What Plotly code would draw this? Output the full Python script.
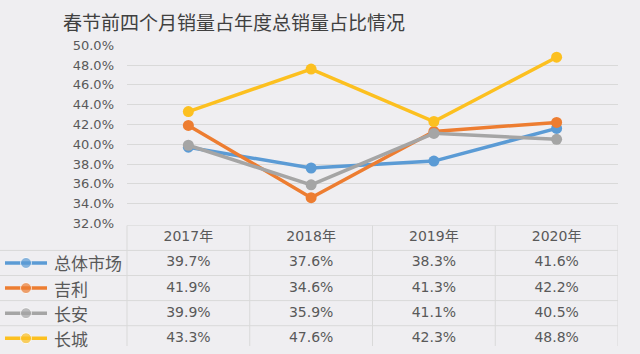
import plotly.graph_objects as go

title = "春节前四个月销量占年度总销量占比情况"
years = ["2017年", "2018年", "2019年", "2020年"]
series_names = ["总体市场", "吉利", "长安", "长城"]
v_total = [39.7, 37.6, 38.3, 41.6]
v_geely = [41.9, 34.6, 41.3, 42.2]
v_changan = [39.9, 35.9, 41.1, 40.5]
v_gw = [43.3, 47.6, 42.3, 48.8]
colors = ["#5b9bd5", "#ed7d31", "#a5a5a5", "#fcc020"]
y_ticks = [32, 34, 36, 38, 40, 42, 44, 46, 48, 50]

series_values = [v_total, v_geely, v_changan, v_gw]

W, H = 640, 354
L, R = 127, 618          # plot left / right px
T, B = 40, 226           # plot top / bottom px
w = (R - L) / 4.0
x2_min = -0.5 - L / w

TXT = "#595959"
GRID = "#d9d9d9"
FONT = "DejaVu Sans, Noto Sans CJK SC, sans-serif"
BG = "#efeef1"

fig = go.Figure()

# main line chart
for name, vals, c in zip(series_names, series_values, colors):
    fig.add_trace(go.Scatter(
        x=years, y=vals, name=name, mode="lines+markers",
        line=dict(color=c, width=3.5),
        marker=dict(color=c, size=11),
        xaxis="x", yaxis="y", showlegend=False, hoverinfo="skip"))

# table: row index 0 header, rows 1..4
row_h = 26.2
top_px = 228
y2_max = -0.5 + (H - top_px) / row_h

def px2x(px):
    return x2_min + px / w

# header text
fig.add_trace(go.Scatter(
    x=list(range(len(years))), y=[0] * len(years), text=years, mode="text",
    textfont=dict(family=FONT, size=14, color=TXT),
    xaxis="x2", yaxis="y2", showlegend=False, hoverinfo="skip"))

for i, (name, vals, c) in enumerate(zip(series_names, series_values, colors)):
    r = i + 1
    fig.add_trace(go.Scatter(
        x=list(range(len(vals))), y=[r] * len(vals),
        text=[f"{v:.1f}%" for v in vals], mode="text",
        textfont=dict(family=FONT, size=14, color=TXT),
        xaxis="x2", yaxis="y2", showlegend=False, hoverinfo="skip"))
    # legend key
    fig.add_trace(go.Scatter(
        x=[px2x(5), px2x(26), px2x(47)], y=[r, r, r], mode="lines+markers",
        line=dict(color=c, width=3.5),
        marker=dict(color=c, size=[0, 11, 0]),
        xaxis="x2", yaxis="y2", showlegend=False, hoverinfo="skip"))
    fig.add_annotation(x=px2x(52), y=r, xref="x2", yref="y2", text=name,
                       showarrow=False, xanchor="left", yanchor="middle",
                       font=dict(family="Noto Sans CJK SC", size=17, color=TXT))

shapes = []
# horizontal table lines
shapes.append(dict(type="line", xref="x2", yref="y2", x0=-0.5, x1=3.5, y0=-0.5, y1=-0.5,
                   line=dict(color=GRID, width=1)))
for rb in [0.5, 1.5, 2.5, 3.5]:
    shapes.append(dict(type="line", xref="x2", yref="y2", x0=x2_min, x1=3.5, y0=rb, y1=rb,
                       line=dict(color=GRID, width=1)))
for xb in [-0.5, 0.5, 1.5, 2.5, 3.5]:
    shapes.append(dict(type="line", xref="x2", yref="y2", x0=xb, x1=xb, y0=-0.5, y1=y2_max,
                       line=dict(color=GRID, width=1)))

fig.add_annotation(x=234 / W, y=1, xref="paper", yref="paper", text=title,
                   showarrow=False, xanchor="center", yanchor="top", borderpad=0,
                   font=dict(family="Noto Sans CJK SC", size=19, color="#404040"))

fig.update_layout(
    width=W, height=H,
    margin=dict(l=0, r=0, t=0, b=0),
    paper_bgcolor=BG, plot_bgcolor=BG,
    shapes=shapes,
    xaxis=dict(domain=[L / W, R / W], type="category", categoryarray=years,
               range=[-0.5, 3.5], showticklabels=False, showgrid=False,
               zeroline=False, showline=False),
    yaxis=dict(domain=[(H - B) / H, (H - T) / H], range=[32, 50], tickvals=y_ticks,
               ticktext=[f"{v:.1f}%" for v in y_ticks], showgrid=True, gridcolor=GRID,
               gridwidth=1, zeroline=False, showline=False, ticks="",
               ticklabelstandoff=12,
               tickfont=dict(family=FONT, size=13, color=TXT)),
    xaxis2=dict(domain=[0, R / W], range=[x2_min, 3.5], visible=False, anchor="y2"),
    yaxis2=dict(domain=[0, (H - top_px) / H], range=[y2_max, -0.5], visible=False,
                anchor="x2"),
)

fig.write_html("out.html")
